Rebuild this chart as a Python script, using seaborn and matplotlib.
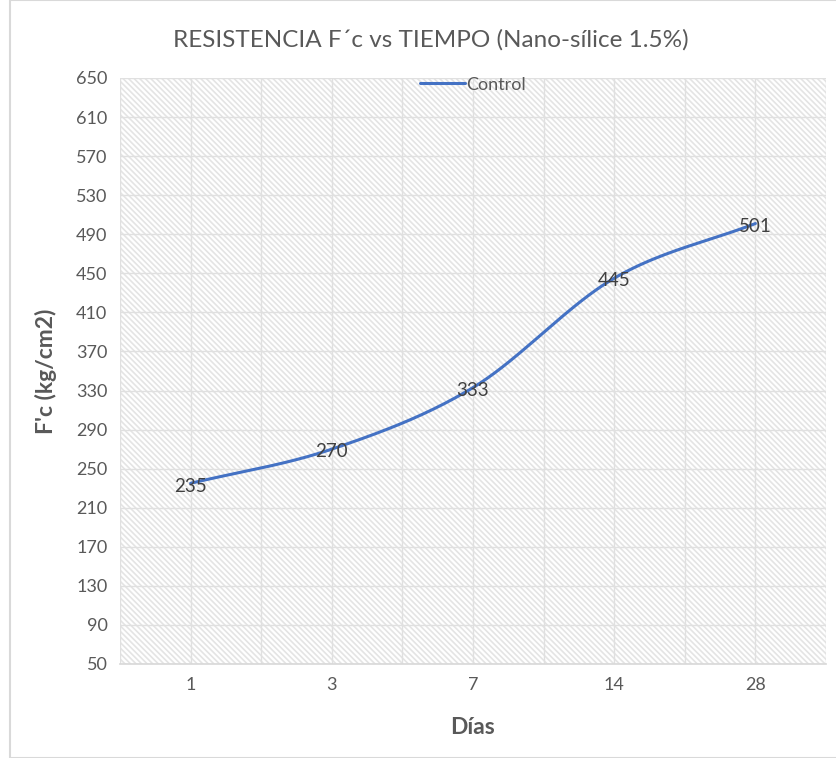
import numpy as np
import pandas as pd
import matplotlib
matplotlib.use("Agg")
import matplotlib.pyplot as plt
import seaborn as sns
from matplotlib.patches import Rectangle

days = ["1", "3", "7", "14", "28"]
control = [235, 270, 333, 445, 501]
yticks = list(range(50, 651, 40))

sns.set_theme(style="white")
plt.rcParams['font.family'] = ['Lato', 'DejaVu Sans']
plt.rcParams['hatch.linewidth'] = 1.2
plt.rcParams['hatch.color'] = '#e4e4e4'

fig = plt.figure(figsize=(8.36, 7.58), dpi=100)
ax = fig.add_axes([120/836, 1-664/758, (826-120)/836, (664-78)/758])

# smooth (Catmull-Rom) curve through the data points, like Excel's smoothed line
x = np.arange(len(control), dtype=float)
y = np.array(control, dtype=float)
px = np.concatenate([[2*x[0]-x[1]], x, [2*x[-1]-x[-2]]])
py = np.concatenate([[2*y[0]-y[1]], y, [2*y[-1]-y[-2]]])
sx, sy = [], []
for i in range(1, len(px)-2):
    t = np.linspace(0, 1, 40)
    for arr, out in ((px, sx), (py, sy)):
        p0, p1, p2, p3 = arr[i-1], arr[i], arr[i+1], arr[i+2]
        out.extend(0.5*((2*p1) + (-p0+p2)*t + (2*p0-5*p1+4*p2-p3)*t**2 + (-p0+3*p1-3*p2+p3)*t**3))
df = pd.DataFrame({"x": sx, "y": sy, "serie": "Control"})

ax.add_patch(Rectangle((0, 0), 1, 1, transform=ax.transAxes, facecolor='white',
                       hatch='\\\\\\\\\\\\', edgecolor='#e4e4e4', linewidth=0, zorder=0))
for gx in np.arange(-0.5, len(days), 0.5):
    ax.axvline(gx, color='#e0e0e0', linewidth=1, zorder=1)
sns.lineplot(data=df, x="x", y="y", hue="serie", palette=["#4472C4"], linewidth=2.2,
             sort=False, ax=ax, zorder=3)

for xi, yi in zip(x, control):
    ax.annotate(str(yi), (xi, yi), xytext=(0, -2), textcoords='offset points',
                ha='center', va='center', fontsize=13.5, color='#404040', zorder=4)

ax.set_xlim(-0.5, len(days)-0.5)
ax.set_ylim(50, 650)
ax.set_yticks(yticks)
ax.set_yticklabels([str(v) for v in yticks], fontsize=13, color='#595959')
ax.set_xticks(x)
ax.set_xticklabels(days, fontsize=13, color='#595959')
ax.grid(True, which='major', axis='y', color='#e0e0e0', linewidth=1, zorder=1)
ax.set_axisbelow(True)
ax.tick_params(axis='both', which='both', length=0, pad=9)
for s in ['top', 'right', 'left']:
    ax.spines[s].set_visible(False)
ax.spines['bottom'].set_color('#d9d9d9')

ax.set_xlabel("Días", fontsize=16.5, fontweight='bold', color='#595959', labelpad=18)
ax.set_ylabel("F'c (kg/cm2)", fontsize=16.5, fontweight='bold', color='#595959', labelpad=14)

leg = ax.legend(loc='upper center', bbox_to_anchor=(0.5, 1.03), frameon=False,
                fontsize=13, handlelength=2.5, handletextpad=0.1, labelcolor='#595959')

fig.text(0.515, 1-40/758, "RESISTENCIA F´c vs TIEMPO (Nano-sílice 1.5%)", ha='center', va='center',
         fontsize=17.5, color='#595959')

fig.patches.append(Rectangle((10/836, 0), 1, 1, transform=fig.transFigure, fill=False,
                             edgecolor='#d9d9d9', linewidth=1.5))
fig.savefig("out.png", dpi=100)
